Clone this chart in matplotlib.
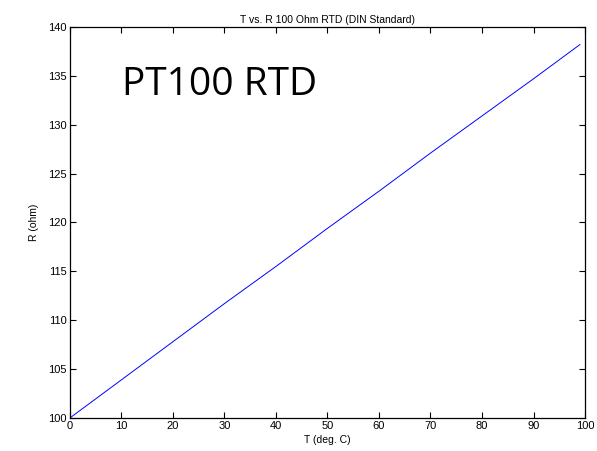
import matplotlib
matplotlib.use("Agg")
import matplotlib.pyplot as plt

temp_c = [0, 10, 20, 30, 40, 50, 60, 70, 80, 90, 99]
resist_ohm = [100.0, 103.9, 107.8, 111.7, 115.5, 119.4, 123.2, 127.1, 130.9, 134.7, 138.2]
x_ticks = [0, 10, 20, 30, 40, 50, 60, 70, 80, 90, 100]
y_ticks = [100, 105, 110, 115, 120, 125, 130, 135, 140]

plt.rcParams['font.family'] = ['Liberation Sans', 'DejaVu Sans']
fig = plt.figure(figsize=(5.97, 4.51), dpi=100)
ax = fig.add_axes([0.117, 0.0732, 0.863, 0.867])
ax.plot(temp_c, resist_ohm, color='#0000ff', lw=0.7)
ax.set_xlim(0, 100)
ax.set_ylim(100, 140)
ax.set_xticks(x_ticks)
ax.set_yticks(y_ticks)
ax.tick_params(direction='in', top=True, right=True, labelsize=8, length=4, width=0.8, pad=2)
for s in ax.spines.values():
    s.set_linewidth(0.9)
ax.set_xlabel('T (deg. C)', fontsize=7.5, labelpad=3)
ax.set_ylabel('R (ohm)', fontsize=7.5, labelpad=7)
ax.set_title('T vs. R 100 Ohm RTD (DIN Standard)', fontsize=7.5, pad=3)
fig.text(220/597, 1 - 95/451, 'PT100 RTD', fontsize=28, family=['Open Sans', 'DejaVu Sans'], color='black', ha='center', va='baseline')
fig.savefig('out.png', dpi=100)
